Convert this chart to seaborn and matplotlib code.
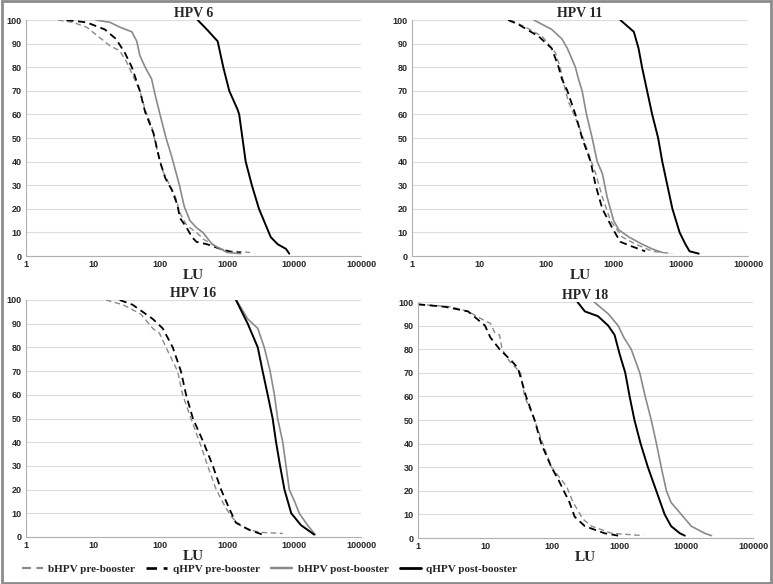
import numpy as np
import pandas as pd
import matplotlib.pyplot as plt
import seaborn as sns
from matplotlib.patches import Rectangle
from matplotlib.lines import Line2D
from matplotlib.ticker import FixedLocator, FixedFormatter

# reverse cumulative curves: % of subjects with titre >= LU
# HPV 6
h6_bpre_x = [3, 5, 8, 12, 18, 25, 32, 40, 50, 60, 75, 90, 110, 140, 170, 200, 250, 350, 450, 600, 800, 1200, 2200]
h6_bpre_y = [100, 99, 97, 93, 89, 87, 82, 76, 70, 62, 55, 45, 36, 30, 25, 18, 13, 10, 7, 5, 3, 2, 1.5]
h6_qpre_x = [4, 8, 15, 22, 30, 38, 50, 60, 80, 100, 120, 150, 180, 200, 250, 300, 350, 500, 800, 1200, 1600]
h6_qpre_y = [100, 99, 96, 92, 86, 80, 70, 61, 52, 40, 33, 28, 22, 16, 12, 8, 6, 5, 3, 1.5, 1.5]
h6_bpost_x = [11, 18, 25, 38, 45, 50, 60, 75, 85, 100, 123, 150, 195, 230, 280, 350, 435, 600, 800, 1000, 1600]
h6_bpost_y = [100, 99, 97, 95, 91, 85, 80, 75, 68, 60, 50, 42, 30, 21, 15, 12, 10, 5, 3, 1.5, 1]
h6_qpost_x = [365, 500, 725, 880, 1080, 1440, 1520, 1700, 1900, 2350, 3000, 3800, 4500, 5700, 7600, 8500]
h6_qpost_y = [100, 96, 91, 80, 70, 62, 60, 50, 40, 30, 20, 13, 8, 5, 3, 1]

# HPV 11
h11_bpre_x = [29, 49, 87, 137, 160, 192, 215, 305, 405, 540, 680, 900, 1350, 2130, 3750, 7450]
h11_bpre_y = [100, 97, 93, 86, 80, 70, 65, 55, 45, 35, 25, 15, 8, 5, 2, 1]
h11_qpre_x = [27, 39, 77, 120, 152, 170, 205, 270, 340, 455, 540, 680, 950, 1260, 1900, 2950]
h11_qpre_y = [100, 98, 93, 88, 80, 75, 70, 60, 50, 40, 30, 20, 12, 6, 4, 2]
h11_bpost_x = [65, 120, 170, 205, 270, 300, 340, 395, 480, 570, 680, 800, 1000, 1200, 1700, 2650, 3750, 5300]
h11_bpost_y = [100, 96, 92, 88, 80, 75, 70, 60, 50, 40, 35, 25, 15, 11, 8, 5, 3, 1.5]
h11_qpost_x = [1260, 2000, 2350, 2650, 3150, 3750, 4600, 5300, 6300, 7500, 9600, 11700, 13500, 18500]
h11_qpost_y = [100, 95, 88, 80, 70, 60, 50, 40, 30, 20, 10, 5, 2, 1]

# HPV 16
h16_bpre_x = [15.6, 28, 52, 78, 98, 123, 183, 218, 290, 390, 515, 690, 970, 1210, 1720, 3000, 6800]
h16_bpre_y = [100, 98, 94, 88, 86, 80, 70, 60, 50, 40, 30, 20, 12, 8, 4, 2, 1.5]
h16_qpre_x = [25, 39, 78, 110, 155, 205, 245, 310, 445, 615, 815, 1080, 1360, 2150, 3400]
h16_qpre_y = [100, 98, 92, 88, 80, 70, 60, 50, 40, 30, 20, 12, 6, 3, 1]
h16_bpost_x = [1380, 2040, 2880, 3600, 4400, 5100, 5700, 6800, 7600, 8500, 10200, 12000, 15900, 20800]
h16_bpost_y = [100, 92, 88, 80, 70, 60, 50, 40, 30, 20, 15, 10, 5, 1]
h16_qpost_x = [1360, 2040, 2880, 3400, 4050, 4800, 5400, 6200, 7200, 9100, 12700, 17900, 20000]
h16_qpost_y = [100, 90, 80, 70, 60, 50, 40, 30, 20, 10, 5, 2, 1]

# HPV 18
h18_bpre_x = [1, 3.1, 5.6, 10, 12, 14, 16.5, 18, 23, 34, 39, 55, 73, 98, 164, 207, 290, 390, 780, 2300]
h18_bpre_y = [99, 98, 96, 92, 91, 87, 86, 80, 75, 70, 60, 50, 40, 30, 22, 15, 8, 5, 2, 1]
h18_qpre_x = [1, 2.5, 5.6, 10, 12, 16.5, 25, 31, 41, 55, 69, 98, 123, 183, 218, 310, 610, 970]
h18_qpre_y = [99, 98, 96, 90, 85, 80, 75, 72, 60, 50, 40, 30, 25, 15, 9, 5, 2, 1]
h18_bpost_x = [425, 690, 970, 1180, 1520, 2040, 2460, 3030, 3620, 4270, 5100, 6000, 8500, 12000, 19000, 24000]
h18_bpost_y = [100, 95, 90, 85, 80, 70, 60, 50, 40, 30, 20, 15, 10, 5, 2, 1]
h18_qpost_x = [240, 310, 485, 690, 860, 1020, 1240, 1440, 1700, 2100, 2700, 3600, 4800, 6000, 8100, 9600]
h18_qpost_y = [100, 96, 94, 90, 86, 78, 70, 60, 50, 40, 30, 20, 10, 5, 2, 1]

titles = ["HPV 6", "HPV 11", "HPV 16", "HPV 18"]
panels = [
    [(h6_bpre_x, h6_bpre_y), (h6_qpre_x, h6_qpre_y), (h6_bpost_x, h6_bpost_y), (h6_qpost_x, h6_qpost_y)],
    [(h11_bpre_x, h11_bpre_y), (h11_qpre_x, h11_qpre_y), (h11_bpost_x, h11_bpost_y), (h11_qpost_x, h11_qpost_y)],
    [(h16_bpre_x, h16_bpre_y), (h16_qpre_x, h16_qpre_y), (h16_bpost_x, h16_bpost_y), (h16_qpost_x, h16_qpost_y)],
    [(h18_bpre_x, h18_bpre_y), (h18_qpre_x, h18_qpre_y), (h18_bpost_x, h18_bpost_y), (h18_qpost_x, h18_qpost_y)],
]
series_names = ["bHPV pre-booster", "qHPV pre-booster", "bHPV post-booster", "qHPV post-booster"]
series_style = [
    dict(color="#8a8a8a", ls=(0, (4, 2.5)), lw=1.0),
    dict(color="black", ls=(0, (4, 2.5)), lw=1.3),
    dict(color="#8a8a8a", ls="-", lw=1.2),
    dict(color="black", ls="-", lw=1.4),
]

sns.set_style("white")
serif = ["Liberation Serif", "DejaVu Serif"]

fig = plt.figure(figsize=(7.73, 5.84), dpi=100)
positions = [
    [26 / 773, 1 - 256 / 584, 335 / 773, 236 / 584],
    [412 / 773, 1 - 256 / 584, 336 / 773, 236 / 584],
    [26 / 773, 1 - 537 / 584, 335 / 773, 237 / 584],
    [418 / 773, 1 - 538 / 584, 335 / 773, 236 / 584],
]

for i, pos in enumerate(positions):
    ax = fig.add_axes(pos)
    for (xs, ys), st in zip(panels[i], series_style):
        df = pd.DataFrame({"LU": xs, "pct": ys})
        sns.lineplot(data=df, x="LU", y="pct", ax=ax, estimator=None, sort=False,
                     color=st["color"], linestyle=st["ls"], linewidth=st["lw"])
    ax.set_xscale("log")
    ax.set_xlim(1, 100000)
    ax.set_ylim(0, 100)
    xt = [1, 10, 100, 1000, 10000, 100000]
    ax.xaxis.set_major_locator(FixedLocator(xt))
    ax.xaxis.set_major_formatter(FixedFormatter([str(v) for v in xt]))
    ax.xaxis.set_minor_locator(FixedLocator([]))
    ax.set_yticks(range(0, 101, 10))
    ax.tick_params(axis="both", length=0, labelsize=6.5, pad=3)
    for lab in ax.get_xticklabels() + ax.get_yticklabels():
        lab.set_fontweight("bold")
        lab.set_family("Liberation Sans")
    ax.yaxis.grid(True, color="#dcdcdc", lw=0.8)
    ax.set_axisbelow(True)
    for s in ["top", "right"]:
        ax.spines[s].set_visible(False)
    for s in ["left", "bottom"]:
        ax.spines[s].set_color("#b0b0b0")
        ax.spines[s].set_linewidth(0.8)
    ax.set_title(titles[i], family=serif, fontweight="bold", fontsize=10, pad=2)
    ax.set_xlabel("LU", family=serif, fontweight="bold", fontsize=11, labelpad=0)
    ax.set_ylabel("")

handles = [Line2D([], [], color=st["color"], linestyle=st["ls"], linewidth=st["lw"] + 0.6)
           for st in series_style]
leg = fig.legend(handles, series_names, loc="center left", bbox_to_anchor=(0.015, 0.025),
                 ncol=4, frameon=False, handlelength=1.9, handletextpad=0.5, columnspacing=1.0,
                 prop=dict(family=serif, weight="bold", size=8))

fig.add_artist(Rectangle((0.002, 0.002), 0.996, 0.996, transform=fig.transFigure,
                         fill=False, edgecolor="#8c8c8c", lw=2))

fig.savefig("out.png", dpi=100)
